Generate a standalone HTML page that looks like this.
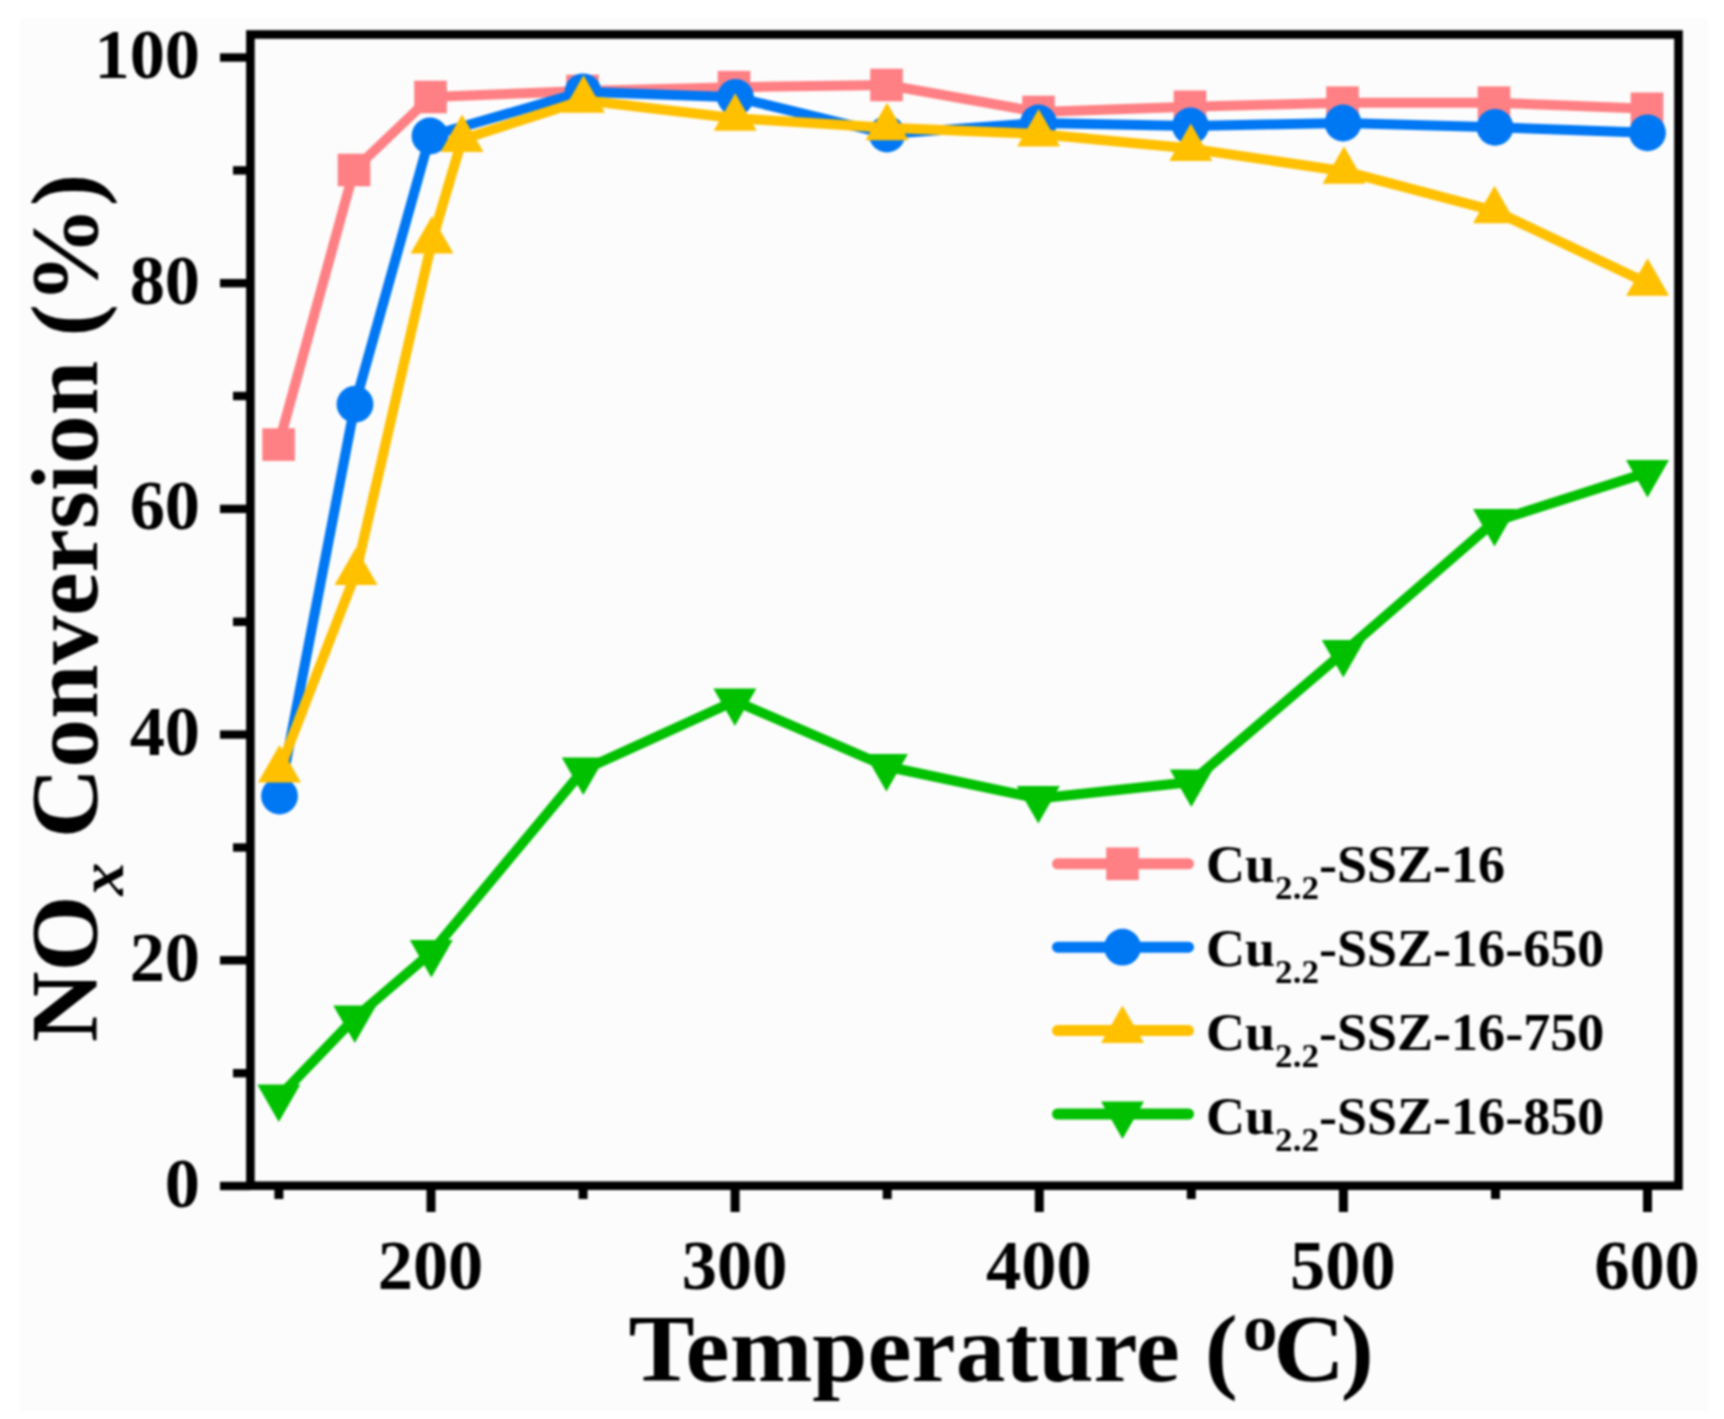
<!DOCTYPE html>
<html lang="en"><head><meta charset="utf-8"><title>NOx Conversion vs Temperature</title>
<style>
html,body{margin:0;padding:0;background:#fff;}
body{width:1724px;height:1419px;overflow:hidden;}
svg{display:block;filter:blur(0.9px);}
text{font-family:"Liberation Serif","Times New Roman",serif;font-weight:bold;fill:#000;}
.tk{font-size:69px;}
.ax{font-size:95px;}
.lg{font-size:52.5px;}
</style></head><body>
<svg width="1724" height="1419" viewBox="0 0 1724 1419">
<rect x="0" y="0" width="1724" height="1419" fill="#ffffff"/>
<rect x="20" y="18" width="1688" height="1393" fill="#fcfcfc"/>
<g id="series">
<polyline points="278.6,444.6 354.0,170.0 430.5,97.0 582.5,91.0 734.0,87.2 886.5,85.0 1038.5,112.0 1190.0,106.8 1342.5,102.7 1494.0,102.7 1647.0,108.8" fill="none" stroke="#ff8084" stroke-width="10" stroke-linejoin="round" stroke-linecap="butt"/>
<rect x="262.3" y="428.3" width="32.6" height="32.6" fill="#ff8084"/>
<rect x="337.7" y="153.7" width="32.6" height="32.6" fill="#ff8084"/>
<rect x="414.2" y="80.7" width="32.6" height="32.6" fill="#ff8084"/>
<rect x="566.2" y="74.7" width="32.6" height="32.6" fill="#ff8084"/>
<rect x="717.7" y="70.9" width="32.6" height="32.6" fill="#ff8084"/>
<rect x="870.2" y="68.7" width="32.6" height="32.6" fill="#ff8084"/>
<rect x="1022.2" y="95.7" width="32.6" height="32.6" fill="#ff8084"/>
<rect x="1173.7" y="90.5" width="32.6" height="32.6" fill="#ff8084"/>
<rect x="1326.2" y="86.4" width="32.6" height="32.6" fill="#ff8084"/>
<rect x="1477.7" y="86.4" width="32.6" height="32.6" fill="#ff8084"/>
<rect x="1630.7" y="92.5" width="32.6" height="32.6" fill="#ff8084"/>
<polyline points="279.5,796.0 355.0,404.2 430.0,136.0 583.0,91.8 735.5,97.3 887.0,134.0 1038.5,123.0 1190.5,126.0 1343.0,123.0 1495.0,127.3 1647.5,132.8" fill="none" stroke="#0078f4" stroke-width="10" stroke-linejoin="round" stroke-linecap="butt"/>
<circle cx="279.5" cy="796.0" r="18.4" fill="#0078f4"/>
<circle cx="355.0" cy="404.2" r="18.4" fill="#0078f4"/>
<circle cx="430.0" cy="136.0" r="18.4" fill="#0078f4"/>
<circle cx="583.0" cy="91.8" r="18.4" fill="#0078f4"/>
<circle cx="735.5" cy="97.3" r="18.4" fill="#0078f4"/>
<circle cx="887.0" cy="134.0" r="18.4" fill="#0078f4"/>
<circle cx="1038.5" cy="123.0" r="18.4" fill="#0078f4"/>
<circle cx="1190.5" cy="126.0" r="18.4" fill="#0078f4"/>
<circle cx="1343.0" cy="123.0" r="18.4" fill="#0078f4"/>
<circle cx="1495.0" cy="127.3" r="18.4" fill="#0078f4"/>
<circle cx="1647.5" cy="132.8" r="18.4" fill="#0078f4"/>
<polyline points="279.5,770.0 356.0,572.5 432.0,241.0 462.0,139.5 583.5,100.2 735.2,118.2 887.0,127.7 1038.6,134.0 1190.8,148.6 1344.0,171.2 1494.5,210.8 1647.6,283.2" fill="none" stroke="#ffc000" stroke-width="10" stroke-linejoin="round" stroke-linecap="butt"/>
<polygon points="279.5,745.0 258.0,782.5 301.0,782.5" fill="#ffc000"/>
<polygon points="356.0,547.5 334.5,585.0 377.5,585.0" fill="#ffc000"/>
<polygon points="432.0,216.0 410.5,253.5 453.5,253.5" fill="#ffc000"/>
<polygon points="462.0,114.5 440.5,152.0 483.5,152.0" fill="#ffc000"/>
<polygon points="583.5,75.2 562.0,112.7 605.0,112.7" fill="#ffc000"/>
<polygon points="735.2,93.2 713.7,130.7 756.7,130.7" fill="#ffc000"/>
<polygon points="887.0,102.7 865.5,140.2 908.5,140.2" fill="#ffc000"/>
<polygon points="1038.6,109.0 1017.1,146.5 1060.1,146.5" fill="#ffc000"/>
<polygon points="1190.8,123.6 1169.3,161.1 1212.3,161.1" fill="#ffc000"/>
<polygon points="1344.0,146.2 1322.5,183.7 1365.5,183.7" fill="#ffc000"/>
<polygon points="1494.5,185.8 1473.0,223.3 1516.0,223.3" fill="#ffc000"/>
<polygon points="1647.6,258.2 1626.1,295.7 1669.1,295.7" fill="#ffc000"/>
<polyline points="278.8,1097.0 354.8,1018.0 431.3,952.5 583.3,770.0 734.9,701.0 886.4,766.5 1038.3,798.5 1191.3,782.0 1343.3,652.5 1494.5,521.5 1647.5,472.5" fill="none" stroke="#00c000" stroke-width="10" stroke-linejoin="round" stroke-linecap="butt"/>
<polygon points="278.8,1122.0 257.3,1084.5 300.3,1084.5" fill="#00c000"/>
<polygon points="354.8,1043.0 333.3,1005.5 376.3,1005.5" fill="#00c000"/>
<polygon points="431.3,977.5 409.8,940.0 452.8,940.0" fill="#00c000"/>
<polygon points="583.3,795.0 561.8,757.5 604.8,757.5" fill="#00c000"/>
<polygon points="734.9,726.0 713.4,688.5 756.4,688.5" fill="#00c000"/>
<polygon points="886.4,791.5 864.9,754.0 907.9,754.0" fill="#00c000"/>
<polygon points="1038.3,823.5 1016.8,786.0 1059.8,786.0" fill="#00c000"/>
<polygon points="1191.3,807.0 1169.8,769.5 1212.8,769.5" fill="#00c000"/>
<polygon points="1343.3,677.5 1321.8,640.0 1364.8,640.0" fill="#00c000"/>
<polygon points="1494.5,546.5 1473.0,509.0 1516.0,509.0" fill="#00c000"/>
<polygon points="1647.5,497.5 1626.0,460.0 1669.0,460.0" fill="#00c000"/>
</g>
<rect x="250.4" y="34.5" width="1428.1" height="1151.2" fill="none" stroke="#000" stroke-width="8.6"/>
<g stroke="#000" stroke-width="8.4">
<line x1="220" y1="1186.0" x2="250.4" y2="1186.0"/>
<line x1="233" y1="1073.2" x2="250.4" y2="1073.2"/>
<line x1="220" y1="960.3" x2="250.4" y2="960.3"/>
<line x1="233" y1="847.5" x2="250.4" y2="847.5"/>
<line x1="220" y1="734.6" x2="250.4" y2="734.6"/>
<line x1="233" y1="621.8" x2="250.4" y2="621.8"/>
<line x1="220" y1="508.9" x2="250.4" y2="508.9"/>
<line x1="233" y1="396.0" x2="250.4" y2="396.0"/>
<line x1="220" y1="283.2" x2="250.4" y2="283.2"/>
<line x1="233" y1="170.4" x2="250.4" y2="170.4"/>
<line x1="220" y1="57.5" x2="250.4" y2="57.5"/>
</g>
<g stroke="#000" stroke-width="9">
<line x1="278.9" y1="1185.7" x2="278.9" y2="1199"/>
<line x1="431.0" y1="1185.7" x2="431.0" y2="1212"/>
<line x1="583.1" y1="1185.7" x2="583.1" y2="1199"/>
<line x1="735.1" y1="1185.7" x2="735.1" y2="1212"/>
<line x1="887.2" y1="1185.7" x2="887.2" y2="1199"/>
<line x1="1039.3" y1="1185.7" x2="1039.3" y2="1212"/>
<line x1="1191.3" y1="1185.7" x2="1191.3" y2="1199"/>
<line x1="1343.4" y1="1185.7" x2="1343.4" y2="1212"/>
<line x1="1495.5" y1="1185.7" x2="1495.5" y2="1199"/>
<line x1="1647.5" y1="1185.7" x2="1647.5" y2="1212"/>
</g>
<text class="tk" transform="translate(200,1206.5) scale(1.02,1)" text-anchor="end">0</text>
<text class="tk" transform="translate(200,980.8) scale(1.02,1)" text-anchor="end">20</text>
<text class="tk" transform="translate(200,755.1) scale(1.02,1)" text-anchor="end">40</text>
<text class="tk" transform="translate(200,529.4) scale(1.02,1)" text-anchor="end">60</text>
<text class="tk" transform="translate(200,303.7) scale(1.02,1)" text-anchor="end">80</text>
<text class="tk" transform="translate(200,78.0) scale(1.02,1)" text-anchor="end">100</text>
<text class="tk" transform="translate(430.5,1289) scale(1.02,1)" text-anchor="middle">200</text>
<text class="tk" transform="translate(734.6,1289) scale(1.02,1)" text-anchor="middle">300</text>
<text class="tk" transform="translate(1038.8,1289) scale(1.02,1)" text-anchor="middle">400</text>
<text class="tk" transform="translate(1342.9,1289) scale(1.02,1)" text-anchor="middle">500</text>
<text class="tk" transform="translate(1647.0,1289) scale(1.02,1)" text-anchor="middle">600</text>
<text class="ax" transform="translate(628.5,1380.5) scale(1.045,1)">Temperature (<tspan font-size="66" dy="-31" dx="5">o</tspan><tspan dy="31" dx="-4">C</tspan><tspan dx="-4">)</tspan></text>
<text class="ax" transform="translate(97,1042) rotate(-90) scale(1.028,1)">NO<tspan font-size="64" font-style="italic" dy="26">x</tspan><tspan dy="-26"> Conversion (%)</tspan></text>
<line x1="1057.5" y1="863.8" x2="1188.5" y2="863.8" stroke="#ff8084" stroke-width="11" stroke-linecap="round"/>
<rect x="1106.2" y="847.5" width="32.6" height="32.6" fill="#ff8084"/>
<text class="lg" transform="translate(1206,881.7) scale(1.03,1)">Cu<tspan font-size="34" dy="17">2.2</tspan><tspan dy="-17">-SSZ-16</tspan></text>
<line x1="1057.5" y1="947.2" x2="1188.5" y2="947.2" stroke="#0078f4" stroke-width="11" stroke-linecap="round"/>
<circle cx="1122.5" cy="947.2" r="18.4" fill="#0078f4"/>
<text class="lg" transform="translate(1206,966.0) scale(1.03,1)">Cu<tspan font-size="34" dy="17">2.2</tspan><tspan dy="-17">-SSZ-16-650</tspan></text>
<line x1="1057.5" y1="1030.6" x2="1188.5" y2="1030.6" stroke="#ffc000" stroke-width="11" stroke-linecap="round"/>
<polygon points="1122.5,1005.6 1101.0,1043.1 1144.0,1043.1" fill="#ffc000"/>
<text class="lg" transform="translate(1206,1050.0) scale(1.03,1)">Cu<tspan font-size="34" dy="17">2.2</tspan><tspan dy="-17">-SSZ-16-750</tspan></text>
<line x1="1057.5" y1="1114.0" x2="1188.5" y2="1114.0" stroke="#00c000" stroke-width="11" stroke-linecap="round"/>
<polygon points="1122.5,1139.0 1101.0,1101.5 1144.0,1101.5" fill="#00c000"/>
<text class="lg" transform="translate(1206,1134.3) scale(1.03,1)">Cu<tspan font-size="34" dy="17">2.2</tspan><tspan dy="-17">-SSZ-16-850</tspan></text>
</svg></body></html>
